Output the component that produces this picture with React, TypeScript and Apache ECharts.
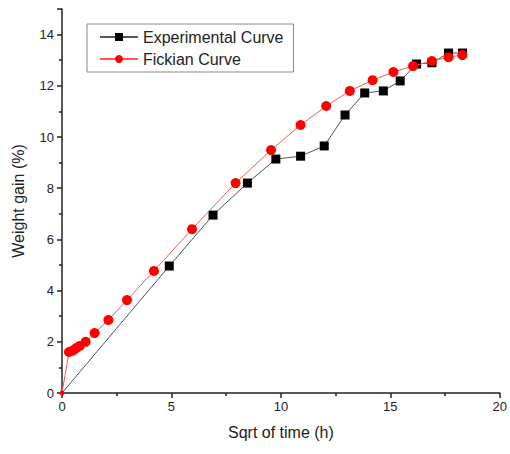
import React, { useEffect, useRef } from "react";
import * as echarts from "echarts";

const expX = [0, 4.9, 6.9, 8.47, 9.77, 10.9, 11.98, 12.93, 13.83, 14.68, 15.45, 16.2, 16.9, 17.66, 18.3];
const expY = [0, 4.96, 6.95, 8.2, 9.14, 9.25, 9.65, 10.86, 11.72, 11.8, 12.19, 12.85, 12.9, 13.28, 13.28];

const fickX = [0, 0.32, 0.45, 0.54, 0.66, 0.81, 1.08, 1.49, 2.12, 2.97, 4.2, 5.94, 7.93, 9.55, 10.9, 12.07, 13.15, 14.19, 15.14, 16.04, 16.9, 17.66, 18.29];
const fickY = [0, 1.6, 1.64, 1.68, 1.76, 1.84, 2.0, 2.34, 2.85, 3.63, 4.77, 6.4, 8.2, 9.49, 10.47, 11.21, 11.8, 12.22, 12.54, 12.77, 12.97, 13.12, 13.2];

const xTicks = [0, 5, 10, 15, 20];
const yTicks = [0, 2, 4, 6, 8, 10, 12, 14];

const FONT = "Liberation Sans, Arial, sans-serif";

export default function App() {
  const ref = useRef<HTMLDivElement>(null);
  useEffect(() => {
    if (!ref.current) return;
    const chart = echarts.init(ref.current, null, { renderer: "svg" });
    const expData = expX.map((x, i) => (i === 0 ? { value: [x, expY[i]], symbolSize: 0 } : [x, expY[i]]));
    const fickData = fickX.map((x, i) => (i === 0 ? { value: [x, fickY[i]], symbolSize: 5 } : [x, fickY[i]]));
    chart.setOption({
      animation: false,
      backgroundColor: "#ffffff",
      textStyle: { fontFamily: FONT },
      grid: { left: 62, right: 4, top: 9, bottom: 61 },
      legend: {
        orient: "vertical",
        left: 87,
        top: 24,
        itemWidth: 38,
        itemHeight: 10,
        itemGap: 6,
        padding: [5, 10, 5, 12],
        borderColor: "#888",
        borderWidth: 1,
        textStyle: { fontFamily: FONT, fontSize: 16, color: "#222" },
        data: ["Experimental Curve", "Fickian Curve"],
      },
      xAxis: {
        type: "value",
        min: 0,
        max: 20,
        interval: 5,
        name: "Sqrt of time (h)",
        nameLocation: "middle",
        nameGap: 31,
        nameTextStyle: { fontFamily: FONT, fontSize: 16, color: "#222" },
        axisLine: { show: true, lineStyle: { color: "#222", width: 1.5 } },
        axisTick: { show: true, inside: false, length: 5, lineStyle: { color: "#222", width: 1.5 } },
        minorTick: { show: true, splitNumber: 2, length: 3, lineStyle: { color: "#222", width: 1.5 } },
        axisLabel: {
          fontFamily: FONT,
          fontSize: 13,
          color: "#222",
          margin: 7,
          formatter: (v: number) => (xTicks.includes(v) ? String(v) : ""),
        },
        splitLine: { show: false },
      },
      yAxis: {
        type: "value",
        min: 0,
        max: 15,
        interval: 2,
        name: "Weight gain (%)",
        nameLocation: "middle",
        nameGap: 36,
        nameTextStyle: { fontFamily: FONT, fontSize: 16, color: "#222" },
        axisLine: { show: true, lineStyle: { color: "#222", width: 1.5 } },
        axisTick: { show: true, inside: false, length: 5, lineStyle: { color: "#222", width: 1.5 } },
        minorTick: { show: true, splitNumber: 2, length: 3, lineStyle: { color: "#222", width: 1.5 } },
        axisLabel: {
          fontFamily: FONT,
          fontSize: 13,
          color: "#222",
          margin: 8,
          formatter: (v: number) => (yTicks.includes(v) ? String(v) : ""),
        },
        splitLine: { show: false },
      },
      series: [
        {
          name: "Experimental Curve",
          type: "line",
          data: expData,
          symbol: "rect",
          symbolSize: 9,
          itemStyle: { color: "#000000" },
          lineStyle: { color: "#555555", width: 1 },
          z: 2,
        },
        {
          name: "Fickian Curve",
          type: "line",
          data: fickData,
          symbol: "circle",
          symbolSize: 10,
          itemStyle: { color: "#ff0000" },
          lineStyle: { color: "#ff5555", width: 1 },
          z: 3,
        },
      ],
    });
    return () => chart.dispose();
  }, []);
  return <div ref={ref} style={{ width: 510, height: 454, position: "absolute", left: 0, top: 0 }} />;
}
